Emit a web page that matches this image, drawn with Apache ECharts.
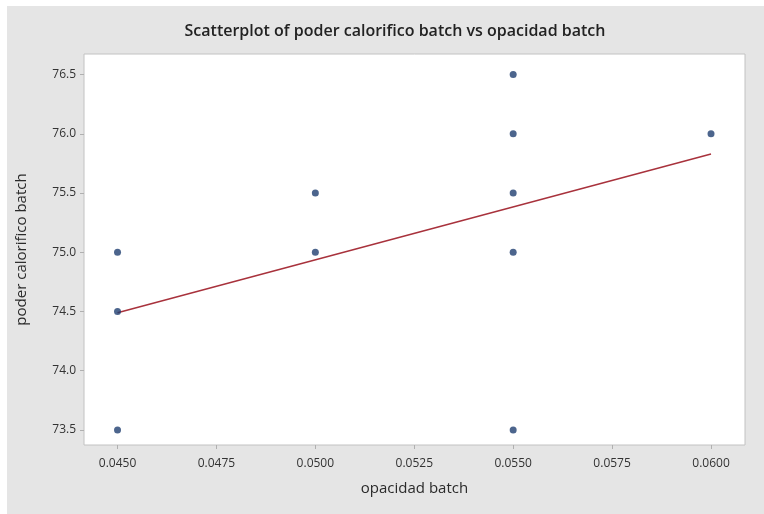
<!DOCTYPE html>
<html>
<head>
<meta charset="utf-8">
<script src="https://cdn.jsdelivr.net/npm/echarts@6/dist/echarts.min.js"></script>
<style>
  html, body { margin: 0; padding: 0; background: #ffffff; }
  #chart { width: 764px; height: 514px; }
</style>
</head>
<body>
<div id="chart"></div>
<script>
// Observations: opacidad batch (x) and poder calorifico batch (y)
var opacidad = [0.045, 0.045, 0.045, 0.050, 0.050, 0.055, 0.055, 0.055, 0.055, 0.055, 0.060];
var poder    = [75.0, 74.5, 73.5, 75.5, 75.0, 76.5, 76.0, 75.5, 75.0, 73.5, 76.0];

// Fitted regression line end points
var fitX = [0.045, 0.060];
var fitY = [74.49, 75.83];

// Tick values
var xTicks = [0.045, 0.0475, 0.050, 0.0525, 0.055, 0.0575, 0.060];
var yTicks = [73.5, 74.0, 74.5, 75.0, 75.5, 76.0, 76.5];

var points = opacidad.map(function (x, i) { return [x, poder[i]]; });
var fitLine = fitX.map(function (x, i) { return [x, fitY[i]]; });

var font = '"Open Sans", "Noto Sans", sans-serif';
var chart = echarts.init(document.getElementById('chart'), null, { renderer: 'canvas' });

chart.setOption({
  animation: false,
  backgroundColor: 'transparent',
  graphic: [{
    type: 'rect',
    z: -10,
    shape: { x: 7, y: 6, width: 757, height: 508 },
    style: { fill: '#e5e5e5' }
  }],
  title: {
    text: 'Scatterplot of poder calorifico batch vs opacidad batch',
    left: 390,
    textAlign: 'center',
    top: 18,
    textStyle: { fontFamily: font, fontSize: 16, fontWeight: 600, color: '#222222' }
  },
  grid: {
    left: 84, right: 19, top: 54, bottom: 69,
    show: true,
    backgroundColor: '#ffffff',
    borderColor: '#c2c2c2',
    borderWidth: 1
  },
  xAxis: {
    type: 'value',
    min: 0.044153,
    max: 0.060859,
    name: 'opacidad batch',
    nameLocation: 'middle',
    nameGap: 36,
    nameTextStyle: { fontFamily: font, fontSize: 15, color: '#2a2a2a' },
    axisLine: { show: false },
    splitLine: { show: false },
    axisTick: { show: true, customValues: xTicks, length: 4, lineStyle: { color: '#b0b0b0' } },
    axisLabel: {
      customValues: xTicks,
      margin: 13,
      fontFamily: font, fontSize: 12, color: '#333333',
      formatter: function (v) { return v.toFixed(4); }
    }
  },
  yAxis: {
    type: 'value',
    min: 73.373,
    max: 76.674,
    name: 'poder calorifico batch',
    nameLocation: 'middle',
    nameGap: 55,
    nameTextStyle: { fontFamily: font, fontSize: 15, color: '#2a2a2a' },
    axisLine: { show: false },
    splitLine: { show: false },
    axisTick: { show: true, customValues: yTicks, length: 4, lineStyle: { color: '#b0b0b0' } },
    axisLabel: {
      customValues: yTicks,
      margin: 8,
      fontFamily: font, fontSize: 12, color: '#333333',
      formatter: function (v) { return v.toFixed(1); }
    }
  },
  series: [
    {
      type: 'line',
      data: fitLine,
      symbol: 'none',
      lineStyle: { color: '#a8323c', width: 1.5 },
      z: 2
    },
    {
      type: 'scatter',
      data: points,
      symbol: 'circle',
      symbolSize: 7,
      itemStyle: { color: '#1f3f70' },
      z: 3
    }
  ]
});
</script>
</body>
</html>
